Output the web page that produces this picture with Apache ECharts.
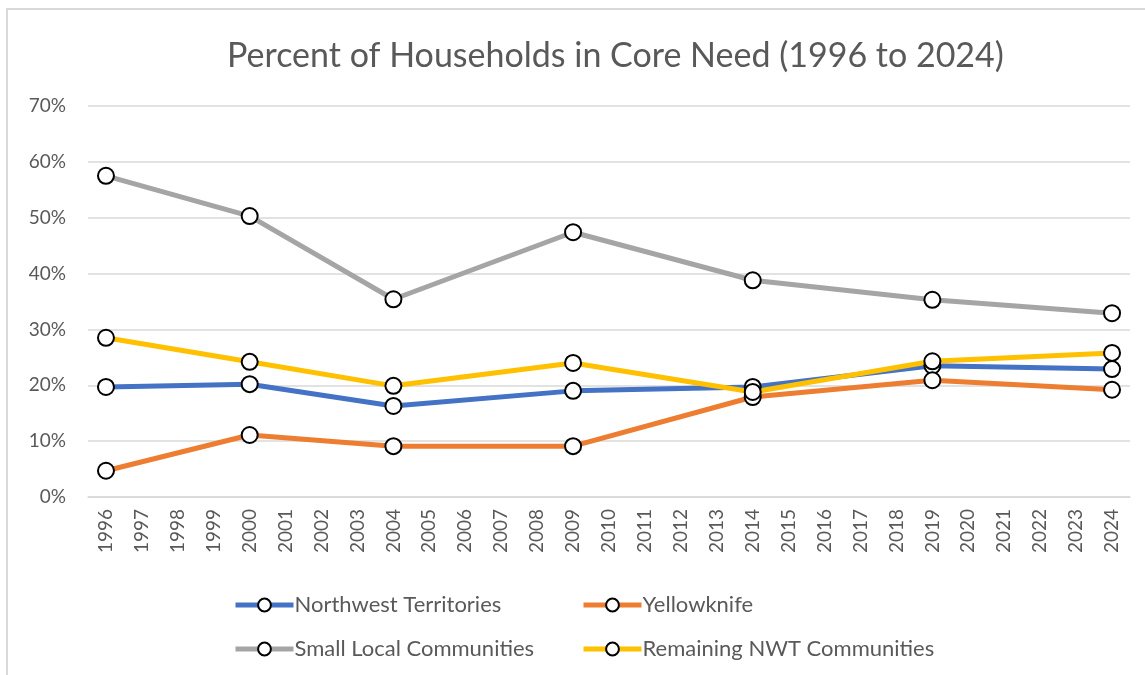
<!DOCTYPE html>
<html>
<head>
<meta charset="UTF-8">
<title>Percent of Households in Core Need</title>
<script src="https://cdn.jsdelivr.net/npm/echarts@6/dist/echarts.min.js"></script>
<style>
  html, body { margin: 0; padding: 0; background: #fff; }
  #wrap { position: relative; width: 1145px; height: 675px; overflow: hidden; }
  #main { width: 1145px; height: 675px; }
  #frame { position: absolute; left: 6px; top: 8px; width: 1200px; height: 700px;
           border-left: 2px solid #d9d9d9; border-top: 2px solid #d9d9d9; pointer-events: none; }
</style>
</head>
<body>
<div id="wrap">
  <div id="main"></div>
  <div id="frame"></div>
</div>
<script type="text/javascript">
    // years on the category axis
    var years = [];
    for (var y = 1996; y <= 2024; y++) { years.push(String(y)); }

    // survey years and values (percent)
    var surveyYears = ['1996', '2000', '2004', '2009', '2014', '2019', '2024'];
    var nwt = [19.7, 20.2, 16.3, 19.0, 19.7, 23.5, 22.9];
    var yellowknife = [4.7, 11.1, 9.1, 9.1, 17.9, 20.9, 19.2];
    var smallLocal = [57.5, 50.3, 35.4, 47.4, 38.8, 35.3, 32.9];
    var remaining = [28.5, 24.2, 19.9, 24.0, 18.8, 24.3, 25.8];

    var names = ['Northwest Territories', 'Yellowknife', 'Small Local Communities', 'Remaining NWT Communities'];
    var colors = ['#4472c4', '#ed7d31', '#a5a5a5', '#ffc000'];

    // spread survey values onto the full year axis
    function spread(vals) {
        return years.map(function (yr) {
            var i = surveyYears.indexOf(yr);
            return i < 0 ? null : vals[i];
        });
    }

    var txt = '#595959';
    var font = 'Lato, "Open Sans", sans-serif';

    function makeSeries(name, vals, color) {
        return {
            name: name,
            type: 'line',
            data: spread(vals),
            connectNulls: true,
            symbol: 'circle',
            symbolSize: 16,
            lineStyle: { color: color, width: 5 },
            itemStyle: { color: '#fff', borderColor: '#000', borderWidth: 2 },
            emphasis: { disabled: true },
            z: 3
        };
    }

    function makeLegend(name, left, top) {
        return {
            data: [name],
            left: left,
            top: top,
            itemWidth: 58,
            itemHeight: 16,
            itemGap: 4,
            lineStyle: { width: 5 },
            textStyle: { color: txt, fontSize: 22, fontFamily: font, padding: [0, 0, 0, -4] }
        };
    }

    var chart = echarts.init(document.getElementById('main'));
    var option = {
        animation: false,
        title: {
            text: 'Percent of Households in Core Need (1996 to 2024)',
            left: 222,
            top: 34,
            textStyle: { color: txt, fontSize: 34, fontWeight: 'normal', fontFamily: font }
        },
        grid: { left: 88, right: 15, top: 106, bottom: 178 },
        xAxis: {
            type: 'category',
            data: years,
            boundaryGap: true,
            axisLine: { lineStyle: { color: '#d9d9d9', width: 1.5 } },
            axisTick: { show: false },
            axisLabel: { rotate: 90, interval: 0, color: txt, fontSize: 19, fontFamily: font, margin: 12 }
        },
        yAxis: {
            type: 'value',
            min: 0,
            max: 70,
            interval: 10,
            axisLine: { show: false },
            axisTick: { show: false },
            splitLine: { lineStyle: { color: '#d9d9d9', width: 1.5 } },
            axisLabel: { formatter: '{value}%', color: txt, fontSize: 19, fontFamily: font, margin: 22 }
        },
        legend: [
            makeLegend(names[0], 228, 589),
            makeLegend(names[1], 576, 589),
            makeLegend(names[2], 228, 633),
            makeLegend(names[3], 576, 633)
        ],
        series: [
            makeSeries(names[0], nwt, colors[0]),
            makeSeries(names[1], yellowknife, colors[1]),
            makeSeries(names[2], smallLocal, colors[2]),
            makeSeries(names[3], remaining, colors[3])
        ]
    };
    chart.setOption(option);
</script>
</body>
</html>
